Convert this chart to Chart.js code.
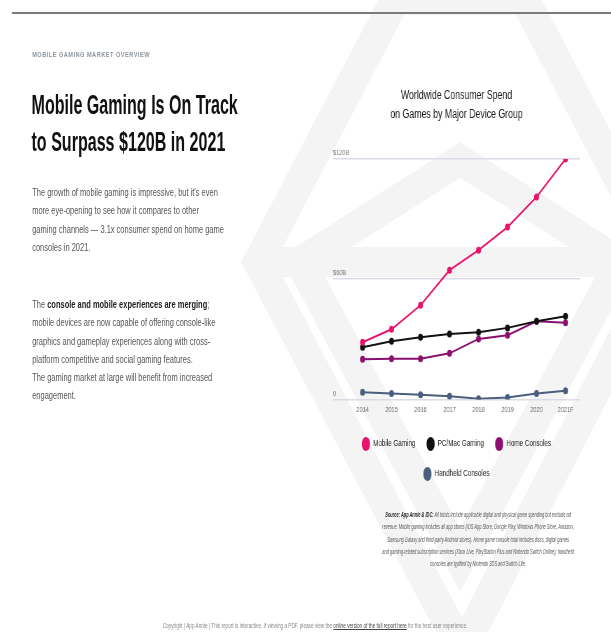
<!DOCTYPE html>
<html>
<head>
<meta charset="utf-8">
<script src="https://cdn.jsdelivr.net/npm/chart.js@4.4.0/dist/chart.umd.min.js"></script>
<style>
    html, body { margin: 0; padding: 0; background: #fff; overflow: hidden; }
    /* the reference is squeezed horizontally, so the page is laid out wide and squeezed back */
    #page {
        position: absolute; left: 0; top: 0;
        width: 873px; height: 632px;
        transform: scaleX(0.7); transform-origin: 0 0;
        font-family: "Liberation Sans", Arial, sans-serif;
    }
    #mark { position: absolute; left: 0; top: 0; }
    #topline { position: absolute; left: 17px; top: 12px; width: 856px; height: 1.5px; background: #7a7a7a; }
    #eyebrow {
        position: absolute; left: 46px; top: 50px;
        font-size: 8px; line-height: 10px; font-weight: bold; letter-spacing: 0.7px;
        color: #8c93a0;
    }
    #heading {
        position: absolute; left: 45px; top: 86px; margin: 0;
        font-family: "Liberation Sans Narrow", "Liberation Sans", sans-serif;
        font-size: 28px; line-height: 37px; font-weight: bold; color: #111;
        white-space: nowrap;
        transform: scaleX(0.82); transform-origin: 0 0;
    }
    .para {
        position: absolute; left: 46px; margin: 0; white-space: nowrap;
        font-size: 10.7px; line-height: 18.3px; color: #555;
    }
    .para b { color: #222; }
    #p1 { top: 183px; }
    #p2 { top: 295px; }
    #chartBox { position: absolute; left: 470px; top: 80px; width: 366px; height: 411px; }
    #source {
        position: absolute; left: 483px; top: 509px; width: 400px; white-space: nowrap;
        font-family: "Liberation Sans Narrow", "Liberation Sans", sans-serif;
        font-size: 6.4px; line-height: 12.3px; font-style: italic; color: #555; text-align: center;
        transform: scaleX(0.88); transform-origin: 50% 0;
    }
    #source b { color: #222; }
    #copyright {
        position: absolute; left: 100px; top: 621px; width: 700px; white-space: nowrap;
        font-size: 6.7px; line-height: 9px; color: #888; text-align: center;
    }
    #copyright u { color: #444; }
</style>
</head>
<body>
<div id="page">
    <svg id="mark" width="873" height="632" viewBox="0 0 611 632" preserveAspectRatio="none">
        <g fill="none" stroke="#f4f4f5" stroke-width="30" stroke-linejoin="miter">
            <polygon points="395,0 525,0 662,262 462,650 258,262"/>
            <line x1="258" y1="262" x2="662" y2="262"/>
            <polyline points="300,262 460,160 620,262"/>
            <polyline points="300,262 460,560 620,262"/>
        </g>
    </svg>
    <div id="topline"></div>

    <div id="eyebrow">MOBILE GAMING MARKET OVERVIEW</div>
    <h1 id="heading">Mobile Gaming Is On Track<br>to Surpass $120B in 2021</h1>

    <p class="para" id="p1">The growth of mobile gaming is impressive, but it's even<br>more eye-opening to see how it compares to other<br>gaming channels &mdash; 3.1x consumer spend on home game<br>consoles in 2021.</p>
    <p class="para" id="p2">The <b>console and mobile experiences are merging</b>;<br>mobile devices are now capable of offering console-like<br>graphics and gameplay experiences along with cross-<br>platform competitive and social gaming features.<br>The gaming market at large will benefit from increased<br>engagement.</p>

    <div id="chartBox"><canvas id="myChart"></canvas></div>

    <div id="source"><b>Source: App Annie &amp; IDC:</b> All totals include applicable digital and physical game spending but exclude ad<br>revenue. Mobile gaming includes all app stores (iOS App Store, Google Play, Windows Phone Store, Amazon,<br>Samsung Galaxy and third-party Android stores). Home game console total includes discs, digital games<br>and gaming-related subscription services (Xbox Live, PlayStation Plus and Nintendo Switch Online); handheld<br>consoles are typified by Nintendo 3DS and Switch Lite.</div>

    <div id="copyright">Copyright | App Annie | This report is interactive. If viewing a PDF, please view the <u>online version of the full report here</u> for the best user experience.</div>
</div>

<script>
    // chart data (billions of US dollars)
    const years = ["2014", "2015", "2016", "2017", "2018", "2019", "2020", "2021F"];
    const mobileGaming = [28.5, 35, 47, 64.5, 74.5, 86, 101, 120];
    const pcMacGaming = [26, 29, 31, 32.7, 33.5, 35.7, 39, 41.5];
    const homeConsoles = [20, 20.3, 20.3, 23, 30.2, 32, 39, 38.2];
    const handheldConsoles = [3.6, 3, 2.3, 1.6, 0.3, 1, 3, 4.3];
    const yTicks = [0, 60, 120];
    const yTickLabels = ["0", "$60B", "$120B"];

    const seriesNames = ["Mobile Gaming", "PC/Mac Gaming", "Home Consoles", "Handheld Consoles"];
    const seriesValues = [mobileGaming, pcMacGaming, homeConsoles, handheldConsoles];
    const seriesColors = ["#e8146c", "#111111", "#8a0f6e", "#4a5e7e"];

    const narrow = "'Liberation Sans Narrow', 'Liberation Sans', sans-serif";
    const gridColor = "#dcdbe8";
    const stubLength = 21.5; // grid lines run a little left of the first year

    Chart.defaults.font.family = narrow;

    let datasets = [];
    for (var i = 0; i < seriesNames.length; i++) {
        datasets.push({
            label: seriesNames[i],
            data: seriesValues[i],
            borderColor: seriesColors[i],
            backgroundColor: seriesColors[i],
            pointBackgroundColor: seriesColors[i],
            borderWidth: 2,
            pointRadius: 3.5,
            pointBorderWidth: 0,
            tension: 0,
        });
    };

    new Chart(document.getElementById("myChart"), {
        type: "line",
        data: {
            labels: years,
            datasets: datasets,
        },
        options: {
            responsive: true,
            maintainAspectRatio: false,
            animation: false,
            layout: {
                padding: { left: 5.7, right: 7.4, top: 6, bottom: 0 },
            },
            scales: {
                x: {
                    offset: true,
                    grid: { display: false, drawTicks: false },
                    border: { display: false },
                    ticks: { color: "#666", font: { size: 8 }, padding: 6, maxRotation: 0 },
                },
                y: {
                    min: 0,
                    max: 120,
                    grid: { color: gridColor, lineWidth: 1.5, drawTicks: true, tickLength: stubLength, tickColor: gridColor },
                    border: { display: false },
                    afterFit: function (scale) {
                        scale.width = stubLength;
                    },
                    ticks: {
                        stepSize: 60,
                        mirror: true,
                        padding: -stubLength,
                        labelOffset: -6,
                        color: "#777",
                        font: { size: 8 },
                        callback: function (v) {
                            return yTickLabels[yTicks.indexOf(v)];
                        },
                    },
                },
            },
            plugins: {
                title: {
                    display: true,
                    text: ["Worldwide Consumer Spend", "on Games by Major Device Group"],
                    color: "#1a1a1a",
                    font: { family: "'Liberation Sans', sans-serif", size: 12.5, weight: "normal", lineHeight: 1.52 },
                    padding: { top: 0, bottom: 35 },
                },
                legend: {
                    position: "bottom",
                    labels: {
                        boxWidth: 11.4,
                        boxHeight: 14,
                        useBorderRadius: true,
                        borderRadius: 5.7,
                        padding: 16,
                        color: "#222",
                        font: { size: 9 },
                        generateLabels: function (chart) {
                            let items = Chart.defaults.plugins.legend.labels.generateLabels(chart);
                            items.forEach(item => { item.lineWidth = 0; });
                            return items;
                        },
                    },
                },
                tooltip: { enabled: false },
            },
        },
    });
</script>
</body>
</html>
